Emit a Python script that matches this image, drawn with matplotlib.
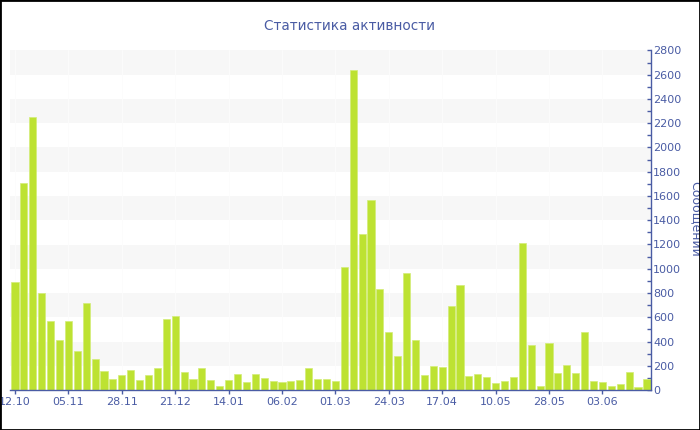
import matplotlib
matplotlib.use("Agg")
import matplotlib.pyplot as plt
from matplotlib.ticker import MultipleLocator
from matplotlib.patches import Rectangle

# ---- data ----
values = [888, 1705, 2255, 803, 569, 412, 566, 324, 718, 258,
          159, 90, 121, 162, 79, 126, 178, 583, 608, 148,
          88, 184, 85, 33, 82, 129, 63, 129, 99, 71,
          66, 77, 80, 178, 88, 88, 74, 1012, 2643, 1287,
          1570, 830, 480, 277, 968, 411, 121, 200, 189, 693,
          866, 118, 132, 104, 60, 77, 110, 1210, 375, 33,
          384, 142, 208, 140, 480, 77, 63, 36, 47, 151,
          22, 90]
tick_positions = [0, 6, 12, 18, 24, 30, 36, 42, 48, 54, 60, 66]
tick_labels = ["12.10", "05.11", "28.11", "21.12", "14.01", "06.02",
               "01.03", "24.03", "17.04", "10.05", "28.05", "03.06"]
title = "Статистика активности"
ylabel = "Сообщений"

# ---- style ----
blue = "#4a5ca4"
bar_color = "#bde232"
band_color = "#f7f7f7"

plt.rcParams['font.family'] = ['DejaVu Sans']

fig = plt.figure(figsize=(7.0, 4.3), dpi=100)
ax = fig.add_axes([10/700, 40/430, (650.5-10)/700, (390-50.5)/430])

x = list(range(len(values)))
ax.set_xlim(-0.56, len(values) - 1 + 0.40)
ax.set_ylim(0, 2800)

# alternating bands
for lo in range(200, 2800, 400):
    ax.axhspan(lo, lo + 200, color=band_color, zorder=0, lw=0)
for p in tick_positions:
    ax.axvline(p, color="#fcfcfc", lw=0.6, zorder=0.5)

ax.bar(x, values, width=0.8, color=bar_color, edgecolor="#d3ed78",
       linewidth=0.5, zorder=2)

# axes styling
for s in ["top", "left"]:
    ax.spines[s].set_visible(False)
ax.spines["bottom"].set_color(blue)
ax.spines["right"].set_color(blue)
ax.spines["bottom"].set_linewidth(1)
ax.spines["right"].set_linewidth(1)

ax.yaxis.tick_right()
ax.yaxis.set_major_locator(MultipleLocator(200))
ax.yaxis.set_minor_locator(MultipleLocator(100))
ax.tick_params(axis="y", which="major", direction="in", length=3, width=1,
               color=blue, labelcolor=blue, labelsize=8, pad=2)
ax.tick_params(axis="y", which="minor", direction="in", length=3, width=1,
               color=blue)

ax.set_xticks(tick_positions)
ax.set_xticklabels(tick_labels)
ax.tick_params(axis="x", direction="out", length=3, width=1, color=blue,
               labelcolor=blue, labelsize=8, pad=2)

fig.text(349/700, 1 - 25.5/430, title, ha="center", va="center",
         color=blue, fontsize=9.8)
fig.text(689/700, 1 - 219/430, ylabel, ha="left", va="center",
         rotation=-90, color=blue, fontsize=9)

# figure border
fig.patches.append(Rectangle((0, 0), 1, 1, transform=fig.transFigure,
                             fill=False, edgecolor="black", linewidth=2,
                             zorder=10))

fig.savefig("out.png", dpi=100)
